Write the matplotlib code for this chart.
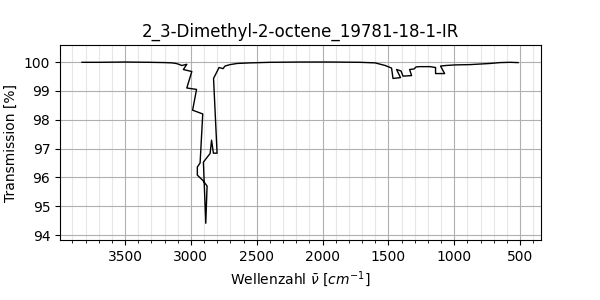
import matplotlib
matplotlib.use("Agg")
import matplotlib.pyplot as plt
from matplotlib.ticker import MultipleLocator

wavenumber = [3827, 3690, 3500, 3310, 3196, 3143, 3113, 3097, 3069, 3031,
              3057, 2993, 3031, 2957, 2987, 2910, 2930, 2951, 2951, 2908,
              2877, 2887, 2905, 2854, 2843, 2829, 2801, 2828, 2786, 2756,
              2741, 2703, 2649, 2551, 2399, 2171, 1943, 1715, 1601, 1525,
              1476, 1465, 1408, 1438, 1404, 1389, 1324, 1339, 1305, 1290,
              1260, 1184, 1142, 1142, 1073, 1104, 1062, 994, 880, 728,
              652, 576, 515]
transmission = [99.99, 99.99, 100.0, 99.99, 99.98, 99.97, 99.95, 99.93, 99.88, 99.92,
                99.74, 99.67, 99.10, 99.05, 98.33, 98.20, 96.50, 96.36, 96.08, 95.89,
                95.70, 94.41, 96.53, 96.83, 97.29, 96.84, 96.84, 99.43, 99.81, 99.77,
                99.86, 99.91, 99.95, 99.97, 99.99, 100.0, 100.0, 99.99, 99.97, 99.88,
                99.79, 99.43, 99.46, 99.74, 99.69, 99.51, 99.53, 99.74, 99.76, 99.83,
                99.84, 99.84, 99.81, 99.60, 99.60, 99.86, 99.88, 99.90, 99.91, 99.95,
                99.98, 99.99, 99.98]

title = "2_3-Dimethyl-2-octene_19781-18-1-IR"

fig = plt.figure(figsize=(6, 3), dpi=100)
ax = fig.add_axes([0.1, 0.2, 0.8017, 0.65])
ax.plot(wavenumber, transmission, color="black", linewidth=1)
ax.set_xlim(3994, 341)
ax.set_ylim(93.83, 100.59)
ax.xaxis.set_major_locator(MultipleLocator(500))
ax.xaxis.set_minor_locator(MultipleLocator(100))
ax.yaxis.set_major_locator(MultipleLocator(1))
ax.grid(which="major", color="#b0b0b0", linewidth=0.8)
ax.grid(which="minor", axis="x", color="#e6e6e6", linewidth=0.8)
ax.set_axisbelow(True)
ax.set_title(title)
ax.set_xlabel(r"Wellenzahl $\bar{\nu}$ $[cm^{-1}]$")
ax.set_ylabel("Transmission [%]")
fig.savefig("out.png", dpi=100)
